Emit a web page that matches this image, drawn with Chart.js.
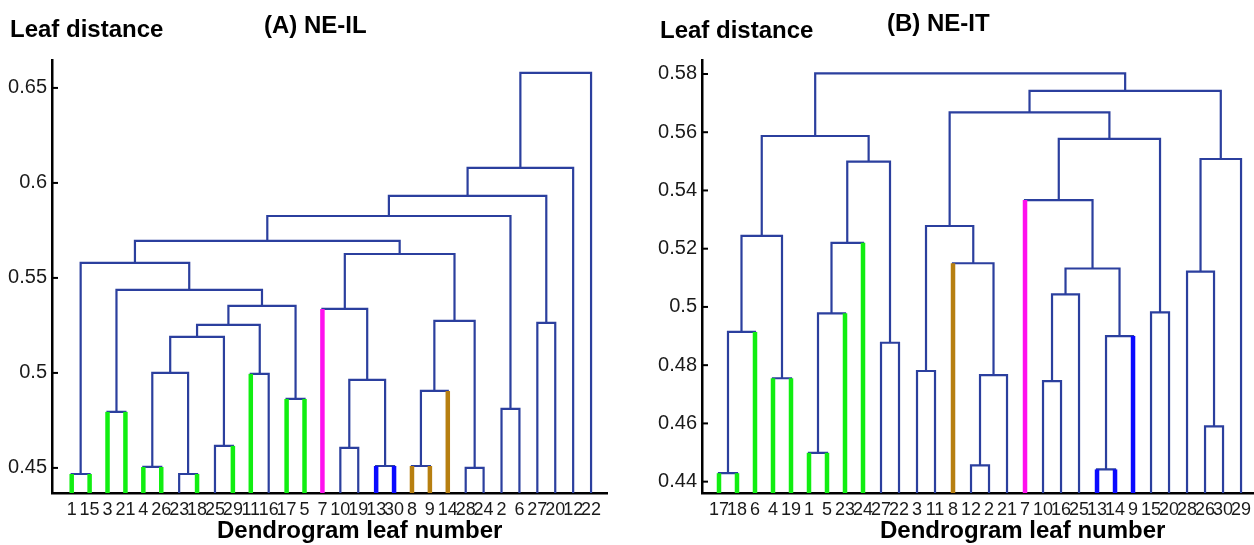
<!DOCTYPE html>
<html>
<head>
<meta charset="utf-8">
<script src="https://cdn.jsdelivr.net/npm/chart.js@4.4.1/dist/chart.umd.min.js"></script>
<style>
  body { margin: 0; background: #fff; width: 1254px; height: 545px; position: relative; overflow: hidden; }
  canvas { position: absolute; top: 0; }
  .lbl { position: absolute; font-family: "Liberation Sans", Arial, sans-serif; font-weight: bold; font-size: 24px; line-height: 28px; color: #000; white-space: nowrap; }
</style>
</head>
<body>
<canvas id="chartA" width="627" height="545" style="left:0"></canvas>
<canvas id="chartB" width="627" height="545" style="left:627px"></canvas>

<div class="lbl" style="left:10px; top:15px">Leaf distance</div>
<div class="lbl" style="left:264px; top:11px">(A) NE-IL</div>
<div class="lbl" style="left:217px; top:516px">Dendrogram leaf number</div>
<div class="lbl" style="left:660px; top:16px">Leaf distance</div>
<div class="lbl" style="left:887px; top:9px">(B) NE-IT</div>
<div class="lbl" style="left:880px; top:516px">Dendrogram leaf number</div>

<script>
// ---- panel A (NE-IL) ----
const leavesA = [1, 15, 3, 21, 4, 26, 23, 18, 25, 29, 11, 16, 17, 5, 7, 10, 19, 13, 30, 8, 9, 14, 28, 24, 2, 6, 27, 20, 12, 22];
// leaf colour class: g green, m magenta, o brown, b blue, n none
const leafClassA = ['g', 'g', 'g', 'g', 'g', 'g', 'n', 'g', 'n', 'g', 'g', 'n', 'g', 'g', 'm', 'n', 'n', 'b', 'b', 'o', 'o', 'o', 'n', 'n', 'n', 'n', 'n', 'n', 'n', 'n'];
// links: [left node, right node, height]; node < 30 = leaf position, 30 + k = link k
const linksA = [
    [0, 1, 0.4468], [2, 3, 0.4795], [4, 5, 0.4505], [6, 7, 0.4468], [8, 9, 0.4616],
    [10, 11, 0.4995], [12, 13, 0.4863], [32, 33, 0.5], [37, 34, 0.519], [38, 35, 0.5253],
    [39, 36, 0.5353], [31, 40, 0.5437], [30, 41, 0.5579], [15, 16, 0.4605], [17, 18, 0.451],
    [43, 44, 0.4963], [14, 45, 0.5337], [19, 20, 0.451], [47, 21, 0.4905], [22, 23, 0.45],
    [48, 49, 0.5274], [46, 50, 0.5626], [42, 51, 0.5695], [24, 25, 0.4811], [52, 53, 0.5826],
    [26, 27, 0.5263], [54, 55, 0.5932], [56, 28, 0.6079], [57, 29, 0.6579]
];
const yTicksA = [0.45, 0.5, 0.55, 0.6, 0.65];

// ---- panel B (NE-IT) ----
const leavesB = [17, 18, 6, 4, 19, 1, 5, 23, 24, 27, 22, 3, 11, 8, 12, 2, 21, 7, 10, 16, 25, 13, 14, 9, 15, 20, 28, 26, 30, 29];
const leafClassB = ['g', 'g', 'g', 'g', 'g', 'g', 'g', 'g', 'g', 'n', 'n', 'n', 'n', 'o', 'n', 'n', 'n', 'm', 'n', 'n', 'n', 'b', 'b', 'b', 'n', 'n', 'n', 'n', 'n', 'n'];
const linksB = [
    [0, 1, 0.4429], [30, 2, 0.4914], [3, 4, 0.4755], [31, 32, 0.5244], [5, 6, 0.4499],
    [34, 7, 0.4978], [35, 8, 0.522], [9, 10, 0.4877], [36, 37, 0.5499], [33, 38, 0.5587],
    [11, 12, 0.478], [14, 15, 0.4456], [41, 16, 0.4766], [13, 42, 0.515], [40, 43, 0.5278],
    [18, 19, 0.4745], [45, 20, 0.5043], [21, 22, 0.4442], [47, 23, 0.49], [46, 48, 0.5132],
    [17, 49, 0.5367], [24, 25, 0.4981], [50, 51, 0.5577], [44, 52, 0.5668], [27, 28, 0.459],
    [26, 54, 0.5121], [55, 29, 0.5508], [53, 56, 0.5742], [39, 57, 0.5802]
];
const yTicksB = [0.44, 0.46, 0.48, 0.5, 0.52, 0.54, 0.56, 0.58];

const treeColor = '#2b3f9e';
const classColor = { g: '#11ee11', m: '#ff11ee', o: '#b77f10', b: '#0a0aff' };
const fontFamily = '"Liberation Sans", Arial, sans-serif';

// turn the link table into U-shaped line datasets
function buildTree(leaves, classes, links, bottom) {
    const n = leaves.length;
    const pos = [], top = [];
    for (let i = 0; i < n; i++) { pos[i] = i; top[i] = bottom; }
    const sets = [];
    links.forEach(([a, b, h], k) => {
        pos[n + k] = (pos[a] + pos[b]) / 2;
        top[n + k] = h;
        sets.push({
            data: [{ x: pos[a], y: top[a] }, { x: pos[a], y: h }, { x: pos[b], y: h }, { x: pos[b], y: top[b] }],
            borderColor: treeColor, borderWidth: 2.2, order: 1
        });
        [a, b].forEach(c => {
            if (c < n && classes[c] !== 'n') {
                sets.push({
                    data: [{ x: pos[c], y: bottom }, { x: pos[c], y: h }],
                    borderColor: classColor[classes[c]], borderWidth: 4.5, order: 0
                });
            }
        });
    });
    sets.forEach(s => {
        s.showLine = true;
        s.pointRadius = 0;
        s.fill = false;
        s.borderCapStyle = 'butt';
        s.borderJoinStyle = 'miter';
    });
    return sets;
}

// small tick marks pointing into the plot, matlab style
const inwardTicks = {
    id: 'inwardTicks',
    afterDraw(chart) {
        const { ctx, chartArea } = chart;
        const y = chart.scales.y;
        ctx.save();
        ctx.strokeStyle = '#000';
        ctx.lineWidth = 2;
        y.ticks.forEach(t => {
            const py = y.getPixelForValue(t.value);
            ctx.beginPath();
            ctx.moveTo(chartArea.left, py);
            ctx.lineTo(chartArea.left + 6, py);
            ctx.stroke();
        });
        ctx.restore();
    }
};

function makeChart(id, leaves, classes, links, yTicks, yMin, yMax, xMin, xMax, axisWidth, padRight) {
    const noPad = s => { s.paddingLeft = 0; s.paddingRight = 0; s.paddingTop = 0; s.paddingBottom = 0; };
    return new Chart(document.getElementById(id), {
        type: 'scatter',
        data: { datasets: buildTree(leaves, classes, links, yMin) },
        options: {
            responsive: false,
            animation: false,
            layout: { padding: { top: 60, right: padRight, left: 0, bottom: 0 } },
            plugins: { legend: { display: false }, tooltip: { enabled: false } },
            scales: {
                x: {
                    type: 'linear', min: xMin, max: xMax,
                    grid: { display: false, drawTicks: false },
                    border: { color: '#000', width: 2.5 },
                    afterBuildTicks: s => { s.ticks = leaves.map((_, i) => ({ value: i })); },
                    afterFit: s => { s.height = 52; noPad(s); },
                    ticks: {
                        autoSkip: false, maxRotation: 0, padding: 6,
                        color: '#1a1a1a', font: { family: fontFamily, size: 18 },
                        callback: v => leaves[v]
                    }
                },
                y: {
                    min: yMin, max: yMax,
                    grid: { display: false, drawTicks: false },
                    border: { color: '#000', width: 2.5 },
                    afterBuildTicks: s => { s.ticks = yTicks.map(v => ({ value: v })); },
                    afterFit: s => { s.width = axisWidth; noPad(s); },
                    ticks: {
                        padding: 5, color: '#1a1a1a', font: { family: fontFamily, size: 20 },
                        callback: v => String(v)
                    }
                }
            }
        },
        plugins: [inwardTicks]
    });
}

makeChart('chartA', leavesA, leafClassA, linksA, yTicksA, 0.4368, 0.6647, -1.1, 29.89, 52, 20);
makeChart('chartB', leavesB, leafClassB, linksB, yTicksB, 0.4361, 0.5848, -0.944, 29.72, 75, 0);
</script>
</body>
</html>
